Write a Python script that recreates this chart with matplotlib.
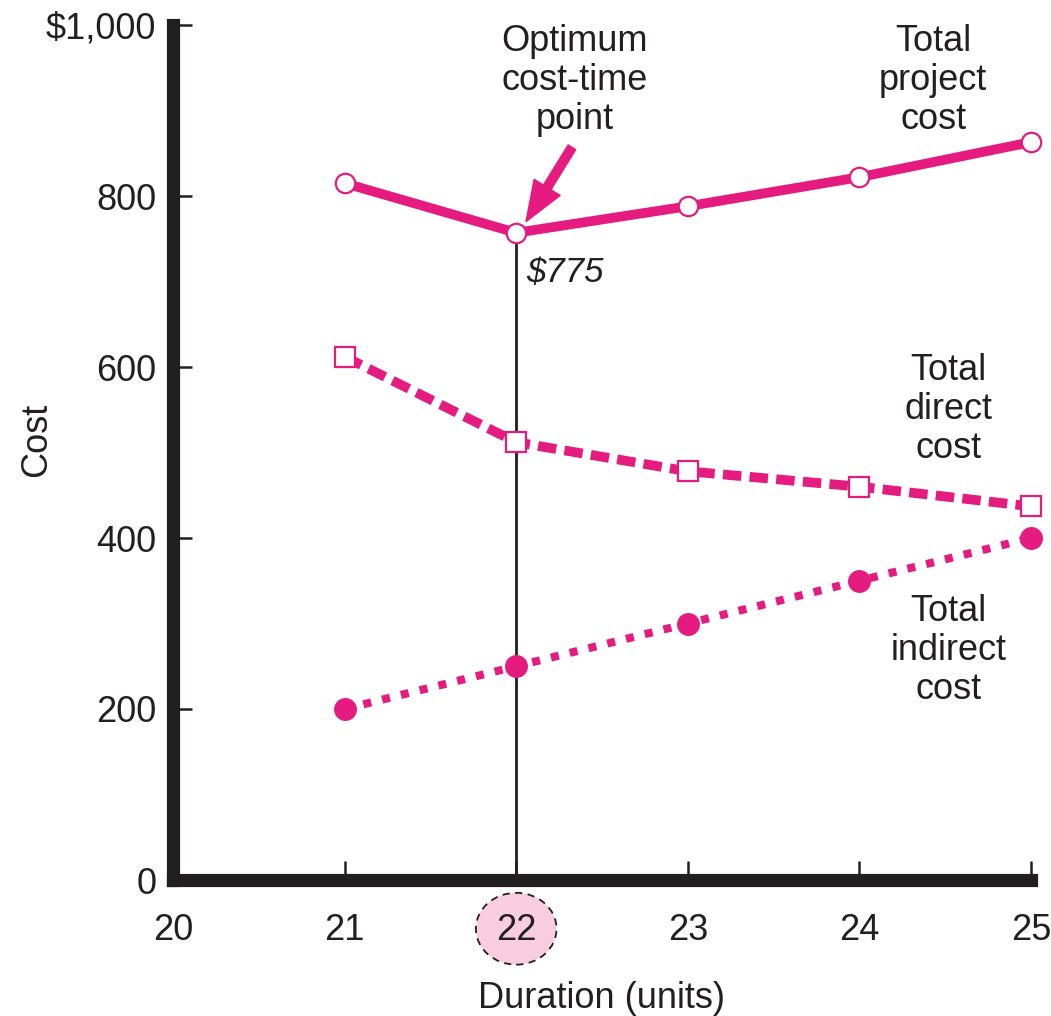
import matplotlib
matplotlib.use("Agg")
import matplotlib.pyplot as plt
from matplotlib.patches import Ellipse

# ---- data ----
duration = [21, 22, 23, 24, 25]
total_project_cost = [815, 757, 788, 822, 863]
total_direct_cost = [612, 512, 478, 460, 437]
total_indirect_cost = [200, 250, 300, 350, 400]
x_ticks = [20, 21, 22, 23, 24, 25]
y_ticks = [0, 200, 400, 600, 800, 1000]
y_ticklabels = ["0", "200", "400", "600", "800", "\\$1,000"]
optimum_x = 22
optimum_label = "\\$775"

MAG = "#E61B7F"
TXT = "#231F20"
FONT = "Liberation Sans"
FS = 26

plt.rcParams['font.family'] = [FONT, 'DejaVu Sans']

fig = plt.figure(figsize=(10.51, 10.16), dpi=100)
ax = fig.add_axes([173/1051, 1-880/1016, (1031-173)/1051, (880-25)/1016])
ax.set_xlim(20, 25)
ax.set_ylim(0, 1000)

for s in ["top", "right"]:
    ax.spines[s].set_visible(False)
for s in ["left", "bottom"]:
    ax.spines[s].set_linewidth(9.5)
    ax.spines[s].set_color(TXT)

ax.set_xticks(x_ticks)
ax.set_yticks(y_ticks)
ax.set_yticklabels(y_ticklabels)
ax.tick_params(axis="both", direction="in", length=14, width=1.8, color=TXT,
               labelsize=FS, labelcolor=TXT)
ax.tick_params(axis="y", pad=12)
ax.tick_params(axis="x", pad=24)

# vertical line at optimum
opt_idx = duration.index(optimum_x)
ax.plot([optimum_x, optimum_x], [0, total_project_cost[opt_idx]], color=TXT, lw=2.0, zorder=2)

# series
ax.plot(duration, total_project_cost, color=MAG, lw=7, solid_capstyle="butt",
        marker="o", markersize=14, markerfacecolor="white", markeredgecolor=MAG,
        markeredgewidth=1.6, clip_on=False, zorder=4)
ax.plot(duration, total_direct_cost, color=MAG, lw=7, linestyle=(0, (1.9, 0.85)),
        dash_capstyle="butt",
        marker="s", markersize=15, markerfacecolor="white", markeredgecolor=MAG,
        markeredgewidth=1.6, clip_on=False, zorder=4)
ax.plot(duration, total_indirect_cost, color=MAG, lw=5.8, linestyle=(0, (1.0, 1.4)),
        dash_capstyle="butt",
        marker="o", markersize=15.5, markerfacecolor=MAG, markeredgecolor=MAG,
        clip_on=False, zorder=4)

# annotations
ax.text(22.34, 935, "Optimum\ncost-time\npoint", ha="center", va="center",
        fontsize=FS, color=TXT, linespacing=1.15)
ax.annotate("", xy=(22.057, 770), xytext=(22.325, 857),
            arrowprops=dict(arrowstyle="simple,head_length=1.45,head_width=1.1,tail_width=0.32",
                            color=MAG, mutation_scale=20, shrinkA=0, shrinkB=0),
            zorder=5)
ax.text(22.06, 710, optimum_label, ha="left", va="center", fontsize=FS - 1,
        color=TXT, style="italic")

ax.text(24.43, 935, "Total\nproject\ncost", ha="center", va="center",
        fontsize=FS, color=TXT, linespacing=1.15)
ax.text(24.52, 550, "Total\ndirect\ncost", ha="center", va="center",
        fontsize=FS, color=TXT, linespacing=1.15)
ax.text(24.52, 268, "Total\nindirect\ncost", ha="center", va="center",
        fontsize=FS, color=TXT, linespacing=1.15)

# highlighted tick label
ell = Ellipse((optimum_x, -57), width=0.47, height=84, facecolor="#F8CDE0",
              edgecolor=TXT, lw=1.3, linestyle=(0, (4, 3)), clip_on=False, zorder=0)
ax.add_patch(ell)

ax.set_xlabel("Duration (units)", fontsize=FS, color=TXT)
ax.xaxis.set_label_coords(0.5, -0.118)
ax.set_ylabel("Cost", fontsize=FS, color=TXT)
ax.yaxis.set_label_coords(-0.139, 0.515)

fig.savefig("out.png", dpi=100)
